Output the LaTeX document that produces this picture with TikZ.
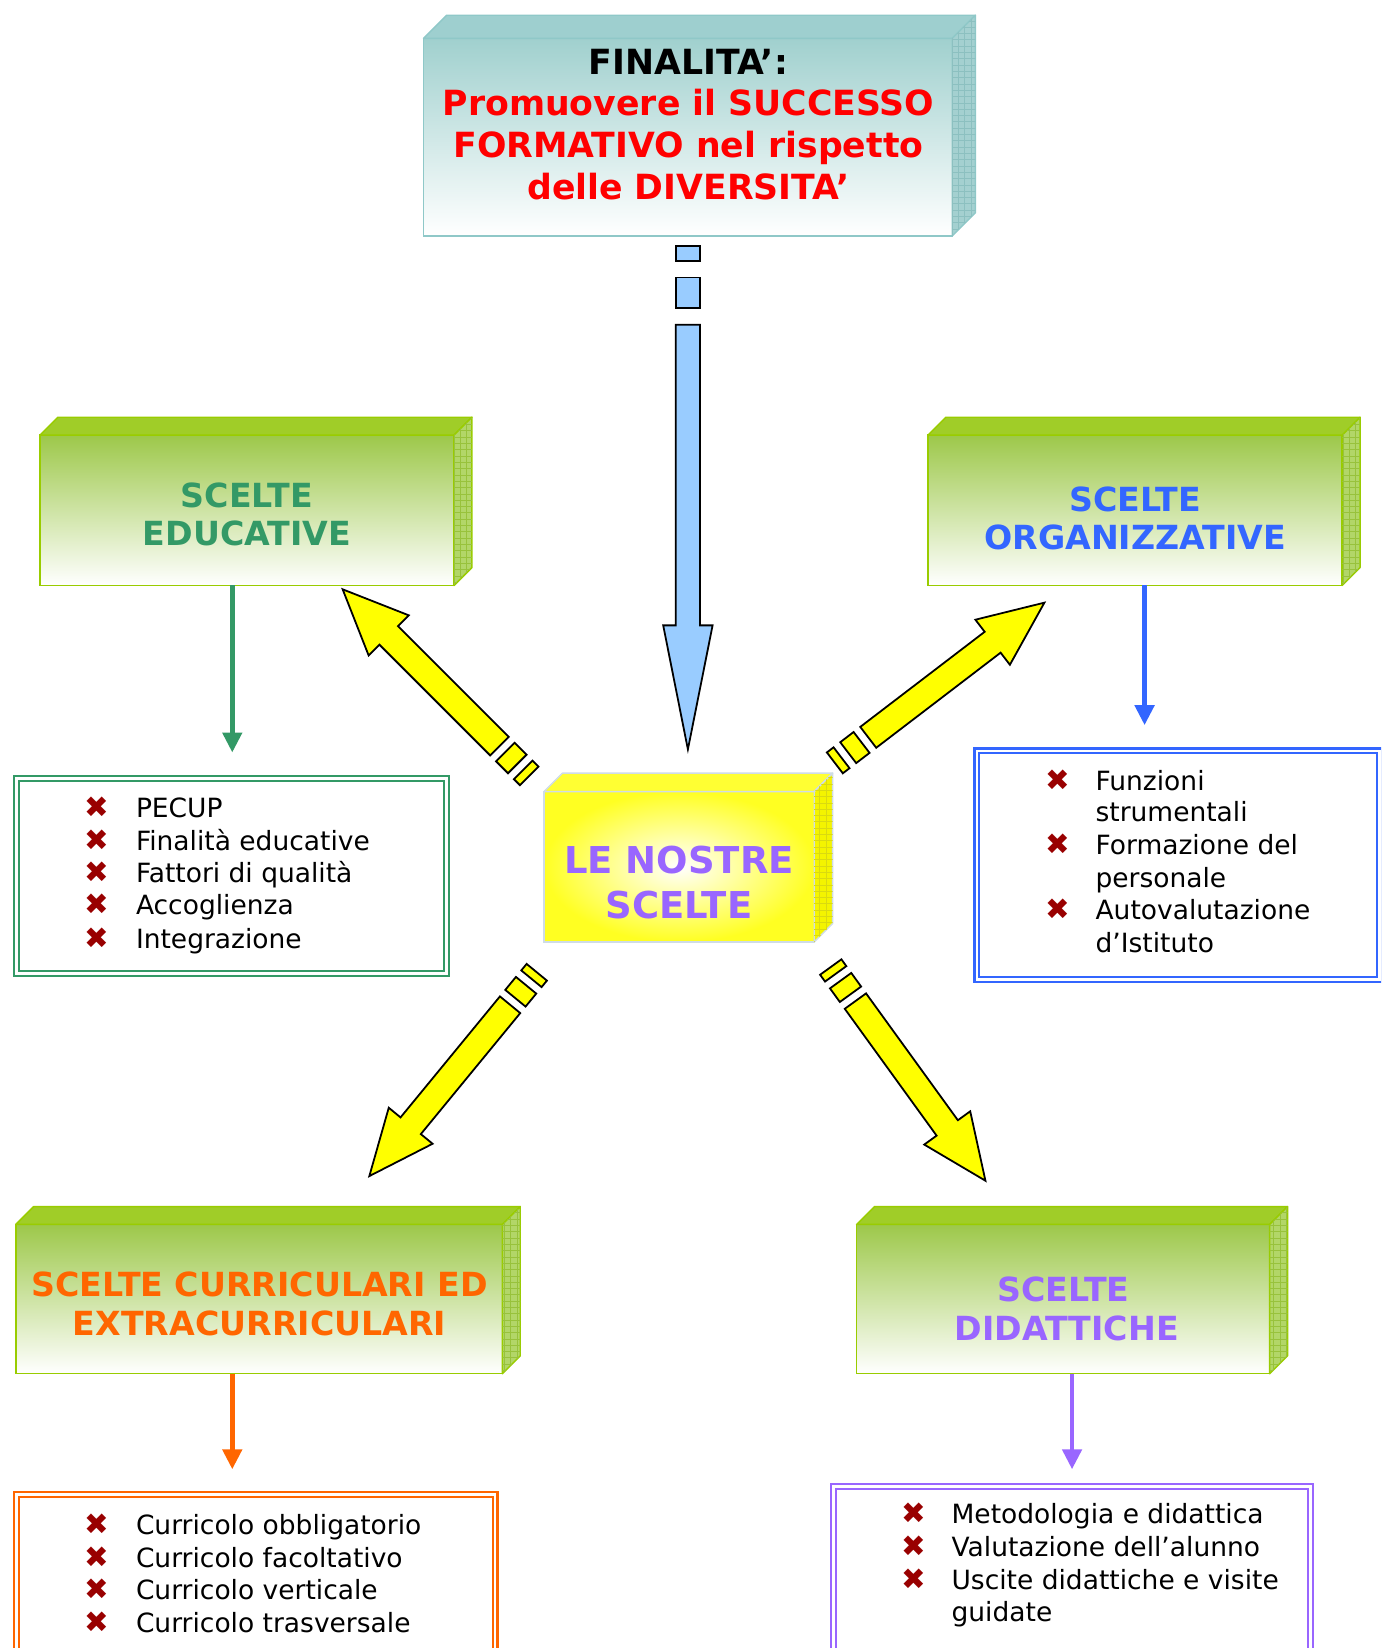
\documentclass[tikz,border=0pt]{standalone}
\usepackage{fontspec}
\setmainfont{DejaVu Sans}
\usetikzlibrary{arrows.meta,patterns,calc}
\definecolor{finred}{HTML}{FF0000}
\definecolor{edugreen}{HTML}{339966}
\definecolor{orgblue}{HTML}{3366FF}
\definecolor{curorange}{HTML}{FF6600}
\definecolor{didpurple}{HTML}{9966FF}
\definecolor{bulred}{HTML}{990000}
\definecolor{arryellow}{HTML}{FFFF00}
\definecolor{arrblue}{HTML}{99CCFF}
\definecolor{tealtop}{HTML}{9ECFCF}
\definecolor{tealfront}{HTML}{A0D0CE}
\definecolor{tealmid}{HTML}{D2EAEA}
\definecolor{tealborder}{HTML}{8FC8C8}
\definecolor{tealside}{HTML}{A4D0D0}
\definecolor{tealgrid}{HTML}{8CC0C0}
\definecolor{grntop}{HTML}{A0CD28}
\definecolor{grnfront}{HTML}{9DC84A}
\definecolor{grnmid}{HTML}{D2E7B0}
\definecolor{grnborder}{HTML}{99CC00}
\definecolor{grnside}{HTML}{B2D668}
\definecolor{grngrid}{HTML}{98C23C}
\definecolor{ylwtop}{HTML}{FFFF33}
\definecolor{ylwfront}{HTML}{FFFF22}
\definecolor{ylwside}{HTML}{F4F400}
\definecolor{ylwgrid}{HTML}{DADA10}
\definecolor{ylwborder}{HTML}{CFDCE6}
\newcommand\boxfaces[5]{% node, depth, border, top fill, side fill
  \filldraw[draw=#3, line width=0.7pt, fill=#4, line join=round] (#1.north west) -- ++(#2,-#2) -- ($(#1.north east)+(#2,-#2)$) -- (#1.north east) -- cycle;
  \filldraw[draw=#3, line width=0.7pt, fill=#5, line join=round] (#1.north east) -- ++(#2,-#2) -- ($(#1.south east)+(#2,-#2)$) -- (#1.south east) -- cycle;
}
\newcommand\sidegrid[3]{% node, depth, grid colour
  \fill[pattern=grid, pattern color=#3] (#1.north east) -- ++(#2,-#2) -- ($(#1.south east)+(#2,-#2)$) -- (#1.south east) -- cycle;
}
\newcommand\yarrow[2]{% tip coordinate, angle
  \begin{scope}[shift={(#1)}, rotate=#2, x=0.5pt, y=0.5pt]
    \filldraw[yarr] (0,0) -- (-62,27) -- (-62,12.5) -- (-211,12.5) -- (-211,-12.5) -- (-62,-12.5) -- (-62,-27) -- cycle;
    \filldraw[yarr] (-219,12.5) rectangle (-235,-12.5);
    \filldraw[yarr] (-243,12.5) rectangle (-251,-12.5);
  \end{scope}
}
\begin{document}
\begin{tikzpicture}[x=0.5pt,y=-0.5pt,
  fin/.style={font=\fontsize{16.5pt}{20pt}\selectfont\bfseries, anchor=base, inner sep=0pt},
  lbl/.style={font=\fontsize{15.8pt}{18pt}\selectfont\bfseries, anchor=base, inner sep=0pt},
  ctr/.style={font=\fontsize{17.6pt}{21pt}\selectfont\bfseries, anchor=base, inner sep=0pt, text=didpurple},
  item/.style={font=\fontsize{12.6pt}{15pt}\selectfont, anchor=base west, inner sep=0pt},
  bul/.style={font=\fontsize{14pt}{16pt}\selectfont, text=bulred, anchor=base, inner sep=0pt},
  listbox/.style={draw=#1, double=white, line width=1pt, double distance=1.3pt, inner sep=0pt, outer sep=0pt},
  conn/.style={draw=#1, line width=2.3pt, -{Triangle[width=9pt,length=9.5pt]}},
  yarr/.style={fill=arryellow, draw=black, line width=0.85pt, line join=miter},
  barr/.style={fill=arrblue, draw=black, line width=0.85pt, line join=miter},
  tealbox/.style={draw=tealborder, line width=0.7pt, top color=tealfront, middle color=tealmid, bottom color=white, inner sep=0pt, outer sep=0pt},
  grnbox/.style={draw=grnborder, line width=0.7pt, top color=grnfront, middle color=grnmid, bottom color=white, inner sep=0pt, outer sep=0pt},
  ylwbox/.style={draw=ylwborder, line width=0.7pt, inner color=white, outer color=ylwfront, inner sep=0pt, outer sep=0pt},
]
\clip (0,0) rectangle (1314,1568);
\fill[white] (0,0) rectangle (1314,1568);

% ---------- top box ----------
\node[tealbox, minimum width=251.5pt, minimum height=94pt] (fin) at (654.5,130.5) {};
\boxfaces{fin}{22}{tealborder}{tealtop}{tealside}
\sidegrid{fin}{22}{tealgrid}
\node[fin] (fin1) at (655,71) {FINALITA’:};
\node[fin, text=finred] (fin2) at (655,110) {Promuovere il SUCCESSO};
\node[fin, text=finred] (fin3) at (655,150) {FORMATIVO nel rispetto};
\node[fin, text=finred] (fin4) at (655,190) {delle DIVERSITA’};

% ---------- green boxes ----------
\node[grnbox, minimum width=197pt, minimum height=71.5pt] (edu) at (235,485.5) {};
\boxfaces{edu}{17}{grnborder}{grntop}{grnside}
\sidegrid{edu}{17}{grngrid}
\node[lbl, text=edugreen] (edu1) at (235,483) {SCELTE};
\node[lbl, text=edugreen] (edu2) at (235,519) {EDUCATIVE};

\node[grnbox, minimum width=197pt, minimum height=71.5pt] (org) at (1080,485.5) {};
\boxfaces{org}{17}{grnborder}{grntop}{grnside}
\sidegrid{org}{17}{grngrid}
\node[lbl, text=orgblue] (org1) at (1080,487) {SCELTE};
\node[lbl, text=orgblue] (org2) at (1080,523) {ORGANIZZATIVE};

\node[grnbox, minimum width=231.5pt, minimum height=71pt] (cur) at (246.5,1236) {};
\boxfaces{cur}{17}{grnborder}{grntop}{grnside}
\sidegrid{cur}{17}{grngrid}
\node[lbl, text=curorange] (cur1) at (247,1234) {SCELTE CURRICULARI ED};
\node[lbl, text=curorange] (cur2) at (247,1271) {EXTRACURRICULARI};

\node[grnbox, minimum width=196.5pt, minimum height=71pt] (did) at (1011.5,1236) {};
\boxfaces{did}{17}{grnborder}{grntop}{grnside}
\sidegrid{did}{17}{grngrid}
\node[lbl, text=didpurple] (did1) at (1012,1238) {SCELTE};
\node[lbl, text=didpurple] (did2) at (1015,1275) {DIDATTICHE};

% ---------- centre box ----------
\node[ylwbox, minimum width=128.5pt, minimum height=71.5pt] (ctr) at (646.2,824.6) {};
\boxfaces{ctr}{17.5}{ylwborder}{ylwtop}{ylwside}
\sidegrid{ctr}{17.5}{ylwgrid}
\node[ctr] (ctr1) at (646,831) {LE NOSTRE};
\node[ctr] (ctr2) at (646,874) {SCELTE};

% ---------- blue arrow ----------
\coordinate (btip) at (654.5,713);
\begin{scope}[shift={(btip)}]
  \filldraw[barr] (-11.5,-479) rectangle (11.5,-465);
  \filldraw[barr] (-11.5,-449) rectangle (11.5,-420);
  \filldraw[barr] (-11.5,-404) -- (-11.5,-118) -- (-23.5,-118) -- (0,0) -- (23.5,-118) -- (11.5,-118) -- (11.5,-404) -- cycle;
\end{scope}

% ---------- yellow arrows ----------
\coordinate (nwtip) at (326,560.7);
\coordinate (netip) at (993.7,573.4);
\coordinate (swtip) at (351.4,1119);
\coordinate (setip) at (937.6,1123.4);
\yarrow{nwtip}{135}
\yarrow{netip}{37.4}
\yarrow{swtip}{230.6}
\yarrow{setip}{-54.1}

% ---------- list boxes ----------
\node[listbox=edugreen, minimum width=204.5pt, minimum height=92.5pt] (edulist) at (220.5,833.5) {};
\node[listbox=orgblue, minimum width=191.5pt, minimum height=108.75pt] (orglist) at (1121,823.25) {};
\node[listbox=curorange, minimum width=227.5pt, minimum height=99pt] (curlist) at (243.5,1521) {};
\node[listbox=didpurple, minimum width=227pt, minimum height=103pt] (didlist) at (1020,1517) {};

% ---------- small connectors ----------
\draw[conn=edugreen, shorten >=12.5pt] ([xshift=-7pt]edu.south) -- ([xshift=-7pt]edu.south |- edulist.north);
\draw[conn=orgblue, shorten >=12.25pt] ([xshift=4.5pt]org.south) -- ([xshift=4.5pt]org.south |- orglist.north);
\draw[conn=curorange, shorten >=12pt] ([xshift=-12.75pt]cur.south) -- ([xshift=-12.75pt]cur.south |- curlist.north);
\draw[conn=didpurple, shorten >=8pt] ([xshift=4.25pt]did.south) -- ([xshift=4.25pt]did.south |- didlist.north);

% ---------- list texts ----------
\node[bul] (eb1) at (92,778) {✖};
\node[bul] (eb2) at (92,809) {✖};
\node[bul] (eb3) at (92,840) {✖};
\node[bul] (eb4) at (92,870) {✖};
\node[bul] (eb5) at (92,902) {✖};
\node[item] (ei1) at (129,778) {PECUP};
\node[item] (ei2) at (129,809) {Finalità educative};
\node[item] (ei3) at (129,840) {Fattori di qualità};
\node[item] (ei4) at (129,870) {Accoglienza};
\node[item] (ei5) at (129,902) {Integrazione};

\node[bul] (ob1) at (1006,752) {✖};
\node[bul] (ob2) at (1006,813) {✖};
\node[bul] (ob3) at (1006,875) {✖};
\node[item] (oi1) at (1042,752) {Funzioni};
\node[item] (oi2) at (1042,782) {strumentali};
\node[item] (oi3) at (1042,813) {Formazione del};
\node[item] (oi4) at (1042,844) {personale};
\node[item] (oi5) at (1042,875) {Autovalutazione};
\node[item] (oi6) at (1042,906) {d’Istituto};

\node[bul] (cb1) at (92,1460) {✖};
\node[bul] (cb2) at (92,1491) {✖};
\node[bul] (cb3) at (92,1522) {✖};
\node[bul] (cb4) at (92,1553) {✖};
\node[item] (ci1) at (129,1460) {Curricolo obbligatorio};
\node[item] (ci2) at (129,1491) {Curricolo facoltativo};
\node[item] (ci3) at (129,1522) {Curricolo verticale};
\node[item] (ci4) at (129,1553) {Curricolo trasversale};

\node[bul] (db1) at (869,1450) {✖};
\node[bul] (db2) at (869,1481) {✖};
\node[bul] (db3) at (869,1512) {✖};
\node[item] (di1) at (905,1450) {Metodologia e didattica};
\node[item] (di2) at (905,1481) {Valutazione dell’alunno};
\node[item] (di3) at (905,1512) {Uscite didattiche e visite};
\node[item] (di4) at (905,1543) {guidate};
\end{tikzpicture}
\end{document}
